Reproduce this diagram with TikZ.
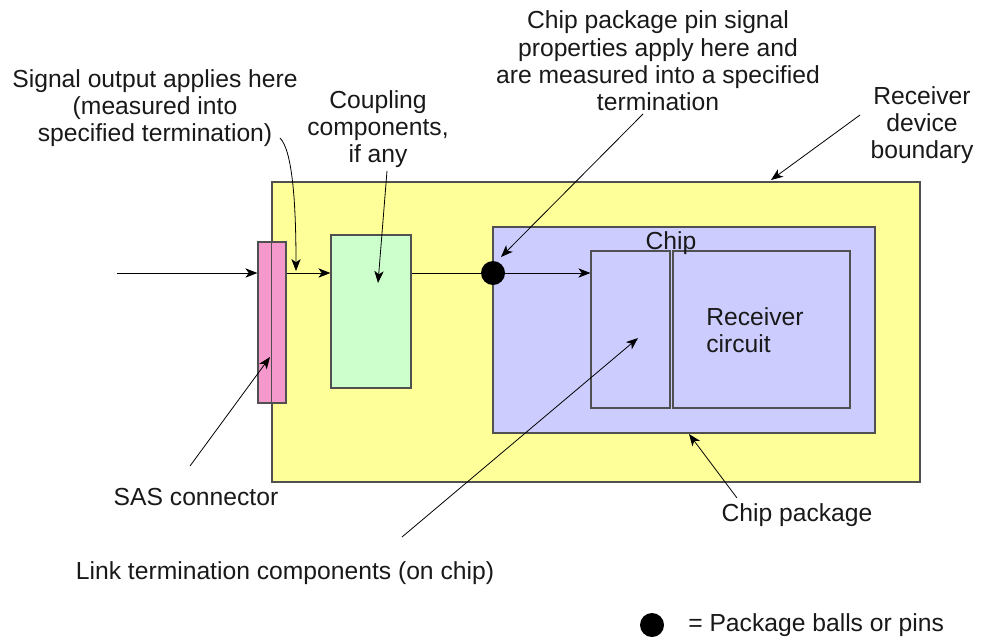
\documentclass[tikz,border=0pt]{standalone}
\usepackage{fontspec}
\setmainfont{Liberation Sans}
\usetikzlibrary{arrows.meta,fit}
\definecolor{devyellow}{HTML}{FFFF99}
\definecolor{coupgreen}{HTML}{CCFFCC}
\definecolor{connpink}{HTML}{F599CC}
\definecolor{chipblue}{HTML}{CCCCFF}
\definecolor{boxline}{HTML}{505050}
\begin{document}
\begin{tikzpicture}[x=0.75pt,y=-0.75pt,
  lbl/.style={font=\fontsize{18.5}{20.5}\selectfont, align=center, inner sep=0pt, text=black!90},
  box/.style={draw=boxline, line width=0.9pt, inner sep=0pt},
  arr/.style={-{Stealth[length=9pt,width=7pt,inset=2.5pt]}, line width=0.6pt},
  wire/.style={line width=0.6pt},
  ball/.style={circle, fill=black, inner sep=0pt, minimum size=18pt},
]
\useasboundingbox (0,0) rectangle (987,639);

% boxes
\node[box, fill=devyellow, fit={(272,182) (920,482)}] (dev) {};
\node[box, fill=connpink, fit={(258,242) (286,403)}] (conn) {};
\draw[draw=boxline, line width=0.9pt] (dev.south west) rectangle (dev.north east);
\node[box, fill=coupgreen, fit={(331,235) (411,388)}] (coup) {};
\node[box, fill=chipblue, fit={(493,227) (875,433)}] (pkg) {};
\node[box, fill=chipblue, fit={(591,251) (670,408)}] (term) {};
\node[box, fill=chipblue, fit={(673,251) (850,408)}] (rcv) {};
\node[ball] (pin) at (493,273) {};

% texts inside
\node[lbl] (chiplbl) at (671,243) {Chip};
\node[lbl, align=left, anchor=west] (rcvlbl) at (706,330) {Receiver\\circuit};

% signal path
\coordinate (in) at (117,273);
\draw[arr] (in) -- (in -| conn.west);
\draw[arr] (conn.east |- pin) -- (coup.west |- pin);
\draw[wire] (coup.east |- pin) -- (pin);
\draw[arr] (pin.east) -- (term.west |- pin);

% labels
\node[lbl] (siglbl) at (155,108) {Signal output applies here\\(measured into\\specified termination)};
\node[lbl] (couplbl) at (378,129) {Coupling\\components,\\if any};
\node[lbl] (pinlbl) at (658,61) {Chip package pin signal\\properties apply here and\\are measured into a specified\\termination};
\node[lbl] (devlbl) at (922,125) {Receiver\\device\\boundary};
\node[lbl] (connlbl) at (196,497) {SAS connector};
\node[lbl] (pkglbl) at (797,515) {Chip package};
\node[lbl] (termlbl) at (285,573) {Link termination components (on chip)};
\node[ball] (legball) at (652,625) {};
\node[lbl, anchor=west] (leglbl) at (688,625) {= Package balls or pins};

% callout arrows
\coordinate (sigfrom) at (280,138);
\coordinate (sigto) at (296,271);
\draw[arr] (sigfrom) .. controls (292,150) and (296,200) .. (sigto);
\coordinate (coupfrom) at (387,171);
\coordinate (coupto) at (378,283);
\draw[arr] (coupfrom) -- (coupto);
\coordinate (pinfrom) at (643,114);
\draw[arr] (pinfrom) -- (501,257);
\coordinate (devfrom) at (860,115);
\coordinate (devto) at (771,180);
\draw[arr] (devfrom) -- (devto);
\coordinate (connfrom) at (190,466);
\coordinate (connto) at (270,357);
\draw[arr] (connfrom) -- (connto);
\coordinate (pkgfrom) at (737,498);
\coordinate (pkgto) at (689,434);
\draw[arr] (pkgfrom) -- (pkgto);
\coordinate (termfrom) at (402,537);
\coordinate (termto) at (638,338);
\draw[arr] (termfrom) -- (termto);
\end{tikzpicture}
\end{document}
